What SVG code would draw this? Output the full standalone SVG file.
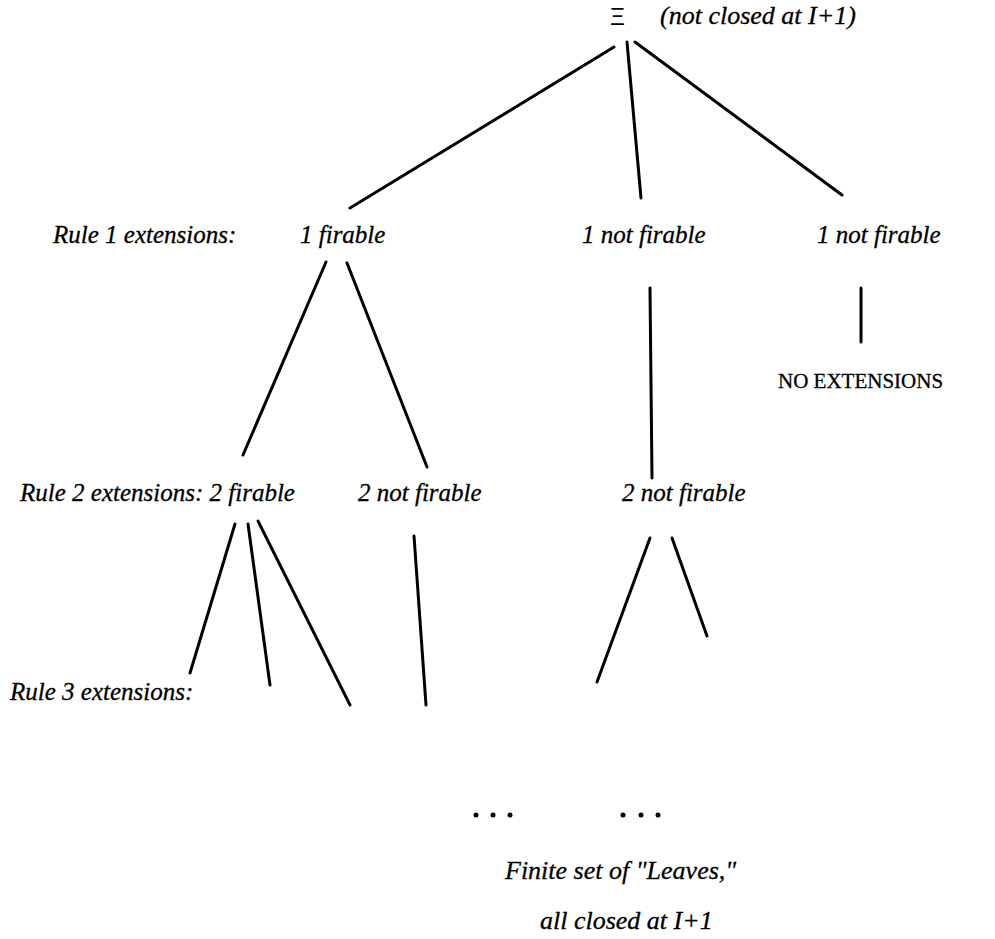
<svg xmlns="http://www.w3.org/2000/svg" width="995" height="939" viewBox="0 0 995 939">
<style>
.t{font-family:"Liberation Serif","Times New Roman",serif;font-style:italic;font-size:25px;fill:#000;stroke:#000;stroke-width:0.3}
.u{font-family:"Liberation Serif","Times New Roman",serif;font-size:21px;fill:#000;stroke:#000;stroke-width:0.3}
.big{font-size:26px}
#connectors line{stroke:#000;stroke-width:3;stroke-linecap:round}
</style>
<rect width="995" height="939" fill="#fff"/>
<g id="connectors">
<line x1="614" y1="47" x2="350" y2="208"/>
<line x1="627" y1="42" x2="641" y2="198"/>
<line x1="635" y1="42" x2="842" y2="195"/>
<line x1="326" y1="262" x2="243" y2="455"/>
<line x1="347" y1="263" x2="427" y2="467"/>
<line x1="650" y1="288" x2="652" y2="478"/>
<line x1="861" y1="288" x2="861" y2="342"/>
<line x1="235" y1="524" x2="190" y2="673"/>
<line x1="248" y1="524" x2="270" y2="685"/>
<line x1="258" y1="521" x2="350" y2="705"/>
<line x1="414" y1="536" x2="426" y2="705"/>
<line x1="650" y1="538" x2="597" y2="682"/>
<line x1="672" y1="538" x2="707" y2="636"/>
</g>
<g id="root">
<text x="610" y="25" style="font-family:'Liberation Sans',Arial,sans-serif;font-size:23px">Ξ</text>
<text class="t big" x="660" y="24">(not closed at I+1)</text>
</g>
<g id="rule1-label"><text class="t" x="53" y="243">Rule 1 extensions:</text></g>
<g id="r1-firable"><text class="t" x="300" y="243">1 firable</text></g>
<g id="r1-notfirable-a"><text class="t" x="582" y="243">1 not firable</text></g>
<g id="r1-notfirable-b"><text class="t" x="817" y="243">1 not firable</text></g>
<g id="no-extensions"><text class="u" x="778" y="388">NO EXTENSIONS</text></g>
<g id="rule2-label"><text class="t" x="20" y="501">Rule 2 extensions: 2 firable</text></g>
<g id="r2-notfirable-a"><text class="t" x="358" y="501">2 not firable</text></g>
<g id="r2-notfirable-b"><text class="t" x="622" y="501">2 not firable</text></g>
<g id="rule3-label"><text class="t" x="10" y="700">Rule 3 extensions:</text></g>
<g id="dots-a"><circle cx="476" cy="815" r="2.5"/><circle cx="493" cy="815" r="2.5"/><circle cx="510" cy="815" r="2.5"/></g>
<g id="dots-b"><circle cx="623" cy="815" r="2.5"/><circle cx="641" cy="815" r="2.5"/><circle cx="658" cy="815" r="2.5"/></g>
<g id="leaves">
<text class="t big" x="505" y="879">Finite set of "Leaves,"</text>
<text class="t big" x="540" y="929">all closed at I+1</text>
</g>
</svg>
